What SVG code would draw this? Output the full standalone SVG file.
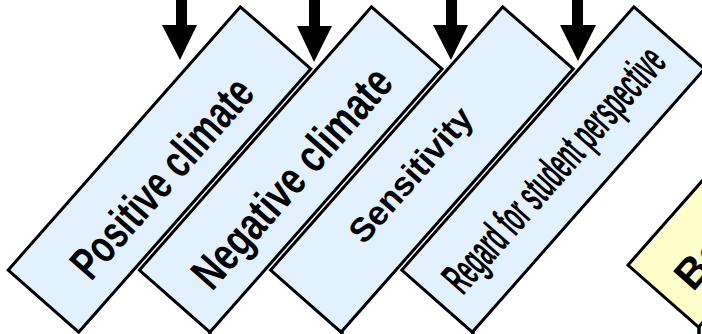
<svg xmlns="http://www.w3.org/2000/svg" width="702" height="334" viewBox="0 0 702 334">
<defs>
<style>
.box{fill:#E3F1FE;stroke:#000;stroke-width:3;stroke-linejoin:miter}
.ybox{fill:#FFFFCC;stroke:#000;stroke-width:3}
.lbl{font-family:"Liberation Sans",Arial,sans-serif;font-weight:bold;fill:#000}
.arrow{fill:#000}
.conn{stroke:#000;stroke-width:3.5;fill:none}
</style>
</defs>
<g id="connectors">
<polygon class="arrow" points="176,0 187,0 187,25 197,25 180,60 162,25 176,25"/>
<polygon class="arrow" points="309,0 320,0 320,26 332,26 314,62 297,26 309,26"/>
<polygon class="arrow" points="446,0 457,0 457,25 468,25 451,60 433,25 446,25"/>
<polygon class="arrow" points="572,0 583,0 583,25 596,25 578,61 560,25 572,25"/>
<line class="conn" x1="210" y1="330" x2="210" y2="340"/>
<line class="conn" x1="342" y1="330" x2="342" y2="340"/>
<line class="conn" x1="473" y1="330" x2="473" y2="340"/>
<line class="conn" x1="699" y1="326" x2="699" y2="340"/>
</g>
<g id="node-positive">
<rect class="box" transform="translate(159.5,169.5) rotate(-48.6)" x="-175.5" y="-47" width="351" height="94"/>
<text class="lbl" transform="translate(91,282) rotate(-48.6)" font-size="46" textLength="250" lengthAdjust="spacingAndGlyphs">Positive climate</text>
</g>
<g id="node-negative">
<rect class="box" transform="translate(290.7,169.5) rotate(-48.6)" x="-175.5" y="-47" width="351" height="94"/>
<text class="lbl" transform="translate(212,292) rotate(-48.6)" font-size="46" textLength="277" lengthAdjust="spacingAndGlyphs">Negative climate</text>
</g>
<g id="node-sensitivity">
<rect class="box" transform="translate(421.9,169.5) rotate(-48.6)" x="-175.5" y="-47" width="351" height="94"/>
<text class="lbl" transform="translate(364,245.5) rotate(-48.6)" font-size="34" textLength="168" lengthAdjust="spacing">Sensitivity</text>
</g>
<g id="node-regard">
<rect class="box" transform="translate(553.1,169.5) rotate(-48.6)" x="-175.5" y="-47" width="351" height="94"/>
<text class="lbl" transform="translate(463,296) rotate(-48.6)" font-size="46" textLength="310" lengthAdjust="spacingAndGlyphs">Regard for student perspective</text>
</g>
<g id="node-behavior">
<rect class="ybox" transform="translate(779.3,164.5) rotate(-48.6)" x="-175.5" y="-47" width="351" height="94"/>
<text class="lbl" transform="translate(693,292.5) rotate(-48.6)" font-size="42">Be</text>
</g>
</svg>
